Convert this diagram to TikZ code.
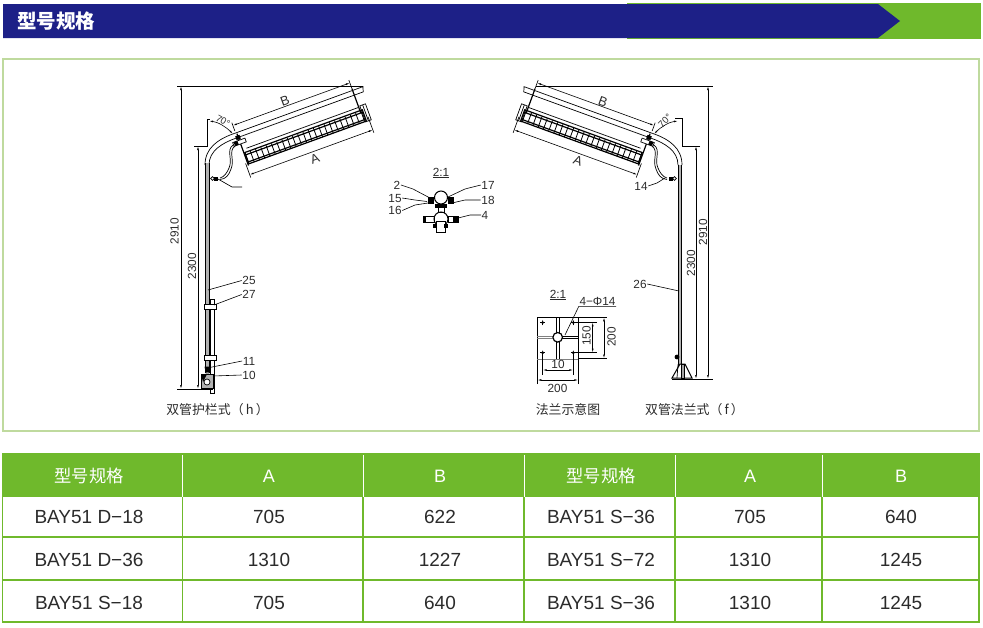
\documentclass[tikz,border=0pt]{standalone}
\usepackage{fontspec}
\setmainfont{Liberation Sans}
\newfontfamily\cjk{Noto Sans CJK SC}
\usetikzlibrary{arrows.meta}
\usetikzlibrary{positioning}
\definecolor{navy}{HTML}{1D2087}
\definecolor{leaf}{HTML}{6FB92C}
\definecolor{pale}{HTML}{BFDA9E}
\definecolor{ink}{HTML}{2B2B2B}
\tikzset{
  % thin drawing lines
  part/.style = {draw = black, line width = 0.7pt},
  heavy/.style = {draw = black, line width = 1.2pt},
  dim/.style = {draw = black, line width = 0.6pt, {Latex[length=4pt,width=1.8pt]}-{Latex[length=4pt,width=1.8pt]}},
  ext/.style = {draw = black, line width = 0.65pt},
  leader/.style = {draw = black, line width = 0.6pt},
  % texts
  mark label/.style = {font = \fontsize{11.8}{12}\selectfont, text = ink, inner sep = 0.5pt},
  letter label/.style = {font = \fontsize{13}{14}\selectfont, text = ink, inner sep = 0.5pt},
  angle label/.style = {font = \fontsize{9.5}{10}\selectfont, text = ink, inner sep = 0},
  caption/.style = {font = \cjk\fontsize{12.9}{14}\selectfont, text = ink, inner sep = 0},
  head cell/.style = {font = \fontsize{18}{20}\selectfont, text = white, inner sep = 0},
  head cjk/.style = {font = \cjk\fontsize{17.3}{20}\selectfont, text = white, inner sep = 0},
  data cell/.style = {font = \fontsize{19}{20}\selectfont, text = ink, inner sep = 0, text height = 13.6pt, text depth = 0pt},
  grid/.style = {draw = leaf, line width = 1.6pt},
  % lamp with its arm, pole bend and cable, drawn left hand
  lamphead/.pic = {
    \begin{scope}[shift = {(245,153)}, rotate = 20]
      \foreach \rung in {0,5.6,...,125} {
        \draw[part, line width = 0.8pt] (\rung,0) -- (\rung,11.5);
      }
      \draw[heavy] (0,-0.5) rectangle (125,11.5);
      \draw[heavy] (0,2) -- (125,2);
      \draw[heavy] (0,9.5) -- (125,9.5);
      \draw[part] (3,-4) -- (122,-4);
      \draw[part] (124,-5) rectangle (130,12);
      \draw[part] (127,-5) -- (127,12);
      \draw[part] (-3,-22) -- (133.5,-22) -- (132,-17) -- (-3,-17);
      \draw[heavy] (-1,-21) -- (-1,13);
      \draw[heavy] (122.5,-24) -- (122.5,2);
      \draw[part, fill = white] (-8,-14) rectangle (5,-10);
      \fill (-3.5,-19) rectangle (1,-15);
      \fill (-7,-14) rectangle (-3,-10);
      % dimension B and A
      \draw[dim] (-2,-30) -- (122.5,-30);
      \draw[ext] (-2,-33) -- (-2,-24);
      \draw[ext] (122.5,-33) -- (122.5,-24);
      \draw[dim] (-3,22) -- (128,22);
      \draw[ext] (-3,10) -- (-3,25);
      \draw[ext] (128,8) -- (128,25);
    \end{scope}
    % pole bend
    \draw[part] (205,165) .. controls (205,148) and (218,139) .. (234.7,133.3);
    \draw[part] (209,165) .. controls (209,151) and (222,143) .. (236.4,138);
    % cable
    \draw[part] (233,145) .. controls (226,150) and (233,160) .. (229,168) .. controls (227,173) and (224,177) .. (220,178);
    \draw[part] (235,146) .. controls (228,151) and (235,160) .. (231,169) .. controls (229,175) and (226,179) .. (220,179.5);
    \fill (214,176.5) rectangle (218,180.5);
    \draw[part] (212.5,178.5) circle (1.8);
    % angle
    \draw[dim] (209,121) .. controls (218,122) and (226,127) .. (233,134);
  }
}
\begin{document}
\begin{tikzpicture}[x=1pt, y=-1pt]
  \useasboundingbox (0,0) rectangle (983,627);

  % banner
  \fill[leaf] (627,3) rectangle (981,39);
  \fill[navy] (3,4) -- (878,4) -- (900,21) -- (878,38) -- (3,38) -- cycle;
  \node[font = \cjk\bfseries\fontsize{19.5}{22}\selectfont, text = white, inner sep = 0] (title) at (56,21) {型号规格};

  % frame
  \draw[pale, line width = 1.1pt] (3,59) rectangle (979,431);

  % left hand lamp
  \pic (lampleft) at (0,0) {lamphead};
  \fill[gray!60] (205.5,163) rectangle (209,373);
  \draw[part] (205.5,163) -- (205.5,373);
  \draw[part] (209,163) -- (209,373);
  \draw[part] (210,299) -- (210,393) -- (214,393) -- (214,299) -- cycle;
  \draw[part, fill = white] (204,304) rectangle (216,309);
  \draw[part, fill = white] (204,355) rectangle (216,360);
  \draw[part] (205,367) -- (210,367) -- (209,373) -- (206,373) -- cycle;
  \fill (205,367) rectangle (210,372);
  \draw[part, fill = gray!60] (201,374) rectangle (213,388);
  \fill (201,374) -- (207,374) -- (203,382) -- cycle;
  \draw[part, fill = white] (207,382) circle (3);
  \draw[ext] (218,179) -- (232,187) -- (242,187);
  \draw[ext] (194,146) -- (207,146) -- (207,119) -- (210,119);
  \draw[ext] (177,86) -- (363,86);
  \draw[ext] (177,389) -- (213,389);
  \draw[dim] (181,86) -- (181,389);
  \draw[dim] (198,146) -- (198,389);
  \node[mark label, rotate = 90] (left2910) at (174.5,231) {2910};
  \node[mark label, rotate = 90] (left2300) at (192,266) {2300};
  \node[letter label, rotate = 20] (leftB) at (285,100.5) {B};
  \node[letter label, rotate = 20] (leftA) at (315,158.5) {A};
  \node[angle label, rotate = -30] (leftangle) at (223,121) {70°};
  \foreach \tag/\tagx/\tagy/\tipx/\tipy in {25/249/280.5/208/290, 27/249/294.5/214/305, 11/249/361/207/368, 10/249/375/213/376} {
    \node[mark label] (tag\tag) at (\tagx,\tagy) {\tag};
    \coordinate (tip\tag) at (\tipx,\tipy);
    \draw[leader] (tag\tag.west) -- (tip\tag);
  }
  \node[caption] (capguard) at (217.5,410) {双管护栏式（\,h\,）};

  % joint detail
  \node[mark label] (jointscale) at (441,173) {\underline{2:1}};
  \draw[part, line width = 1pt] (441,197.5) circle (6.5);
  \draw[part, line width = 1pt] (441,219) circle (7);
  \draw[part] (438,204) rectangle (444,212);
  \fill (428,197) rectangle (434,204);
  \fill (448,197) rectangle (454,204);
  \fill (435,204) rectangle (447,208);
  \draw[part] (423,216) rectangle (434,222);
  \draw[part] (448,216) rectangle (457,222);
  \fill (453,215.5) rectangle (459,222.5);
  \fill (424,215.5) rectangle (426,222.5);
  \draw[part, fill = white] (436,221) rectangle (445,232);
  \fill (433,224) rectangle (437,228);
  \fill (444,224) rectangle (448,228);
  \foreach \tag/\tagx/\tagy/\bendx/\bendy/\tipx/\tipy in {
    2/397/185/413/189/430/198, 15/395/198/415/200/427/201.5, 16/395/210.5/415/205/428/203} {
    \node[mark label] (tag\tag) at (\tagx,\tagy) {\tag};
    \coordinate (tip\tag) at (\tipx,\tipy);
    \draw[leader] (tag\tag.east) -- (\bendx,\bendy) -- (tip\tag);
  }
  \foreach \tag/\tagx/\tagy/\bendx/\bendy/\tipx/\tipy in {
    17/488/185/465/189/448/197, 18/488/200/465/200/452/203, 4/485/215/470/215/458/218} {
    \node[mark label] (tag\tag) at (\tagx,\tagy) {\tag};
    \coordinate (tip\tag) at (\tipx,\tipy);
    \draw[leader] (tag\tag.west) -- (\bendx,\bendy) -- (tip\tag);
  }

  % right hand lamp
  \pic[xscale = -1] (lampright) at (887,0) {lamphead};
  \fill[gray!60] (678.5,165) rectangle (681.7,378);
  \draw[part] (681.7,165) -- (681.7,378);
  \draw[part] (678.5,165) -- (678.5,378);
  \draw[ext] (700,146) -- (682,146) -- (682,118) -- (675,118);
  \draw[ext] (536,86) -- (713,86);
  \draw[ext] (672,379) -- (713,379);
  \draw[dim] (696,146) -- (696,379);
  \draw[dim] (708,86) -- (708,379);
  \draw[part, line width = 1pt, fill = white] (672,378) -- (680,364) -- (685,364) -- (692,378) -- cycle;
  \draw[part] (678,364.5) -- (677,378);
  \draw[part, fill = gray!70] (681,364) rectangle (684,378);
  \fill (677,357) circle (2.4);
  \node[mark label, rotate = 90] (right2300) at (691,263) {2300};
  \node[mark label, rotate = 90] (right2910) at (703,232) {2910};
  \node[letter label, rotate = -20] (rightB) at (603,102) {B};
  \node[letter label, rotate = -20] (rightA) at (578,161) {A};
  \node[angle label, rotate = 45] (rightangle) at (665,121) {70°};
  \node[mark label] (tag14) at (641,186) {14};
  \coordinate (tip14) at (665,178);
  \draw[leader] (tag14.east) -- (657,183) -- (tip14);
  \node[mark label] (tag26) at (640,284) {26};
  \coordinate (tip26) at (679,291);
  \draw[leader] (tag26.east) -- (tip26);
  \node[caption] (capflange) at (694.5,410) {双管法兰式（\,f\,）};

  % flange plate
  \node[mark label] (platescale) at (558,295) {\underline{2:1}};
  \draw[part] (537.3,384) -- (537.3,317.3) -- (607,317.3);
  \draw[part] (578.3,384) -- (578.3,317.3);
  \draw[part, line width = 1pt, gray] (537.3,359) -- (578.3,359);
  \draw[part] (578.3,358.5) -- (607,358.5);
  \draw[part] (556.5,317.3) -- (556.5,359);
  \draw[part] (559.3,317.3) -- (559.3,359);
  \draw[part, gray, line width = 0.9pt] (537.3,336) -- (553,336);
  \draw[part, gray, line width = 0.9pt] (537.3,338.7) -- (553,338.7);
  \draw[part] (562,336) -- (578.3,336);
  \draw[part] (562,338.7) -- (578.3,338.7);
  \draw[heavy, fill = white] (557.7,337.3) circle (4.8);
  \foreach \holex/\holey in {542.7/322.3, 573.3/322.3, 542.7/352.7, 573.3/352.7} {
    \draw[part] (\holex-2.5,\holey) -- (\holex+2.5,\holey);
    \draw[part, -{Latex[length=4pt,width=2.5pt]}] (\holex,\holey+3) -- (\holex,\holey-3);
  }
  \draw[ext] (542.7,352.7) -- (542.7,375);
  \draw[ext] (573.3,352.7) -- (573.3,375);
  \draw[ext] (573.3,322.3) -- (597,322.3);
  \draw[ext] (573.3,352.7) -- (597,352.7);
  \draw[dim] (542.7,370) -- (573.3,370);
  \draw[dim] (537.3,380) -- (578.3,380);
  \draw[dim] (592.7,322.3) -- (592.7,352.7);
  \draw[dim] (604,317.3) -- (604,358.5);
  \node[mark label] (plate10) at (558,364.5) {10};
  \node[mark label] (plate200) at (557.5,388) {200};
  \node[mark label, rotate = 90] (plate150) at (586.5,336) {150};
  \node[mark label, rotate = 90] (plate200v) at (611.5,337) {200};
  \node[mark label] (holes) at (597.5,301.5) {4−Φ14};
  \coordinate (holetip) at (565,335);
  \draw[leader] (holes.south east) -- (holes.south west) -- (holetip);
  \node[caption] (capplate) at (568,410) {法兰示意图};

  % table
  \fill[leaf] (2,453) rectangle (980,497);
  \foreach \sepx in {182.5,363,524,675,822} {
    \draw[white, line width = 0.6pt] (\sepx,455) -- (\sepx,497);
    \draw[grid] (\sepx,497) -- (\sepx,622);
  }
  \foreach \liney in {537,580,622} {
    \draw[grid] (2,\liney) -- (980,\liney);
  }
  \draw[grid, line width = 0.7pt] (2.5,497) -- (2.5,622);
  \draw[grid] (979,497) -- (979,622);
  \node[head cjk] (headmodelL) at (89,476) {型号规格};
  \node[head cell] (headAL) at (269,476) {A};
  \node[head cell] (headBL) at (440,476) {B};
  \node[head cjk] (headmodelR) at (601,476) {型号规格};
  \node[head cell] (headAR) at (750,476) {A};
  \node[head cell] (headBR) at (901,476) {B};
  \foreach \rownum/\rowy/\modelL/\sizeAL/\sizeBL/\modelR/\sizeAR/\sizeBR in {
    1/516.5/BAY51 D−18/705/622/BAY51 S−36/705/640,
    2/560/BAY51 D−36/1310/1227/BAY51 S−72/1310/1245,
    3/603/BAY51 S−18/705/640/BAY51 S−36/1310/1245} {
    \node[data cell] (model\rownum L) at (89,\rowy) {\modelL};
    \node[data cell] (a\rownum L) at (269,\rowy) {\sizeAL};
    \node[data cell] (b\rownum L) at (440,\rowy) {\sizeBL};
    \node[data cell] (model\rownum R) at (601,\rowy) {\modelR};
    \node[data cell] (a\rownum R) at (750,\rowy) {\sizeAR};
    \node[data cell] (b\rownum R) at (901,\rowy) {\sizeBR};
  }
\end{tikzpicture}
\end{document}
